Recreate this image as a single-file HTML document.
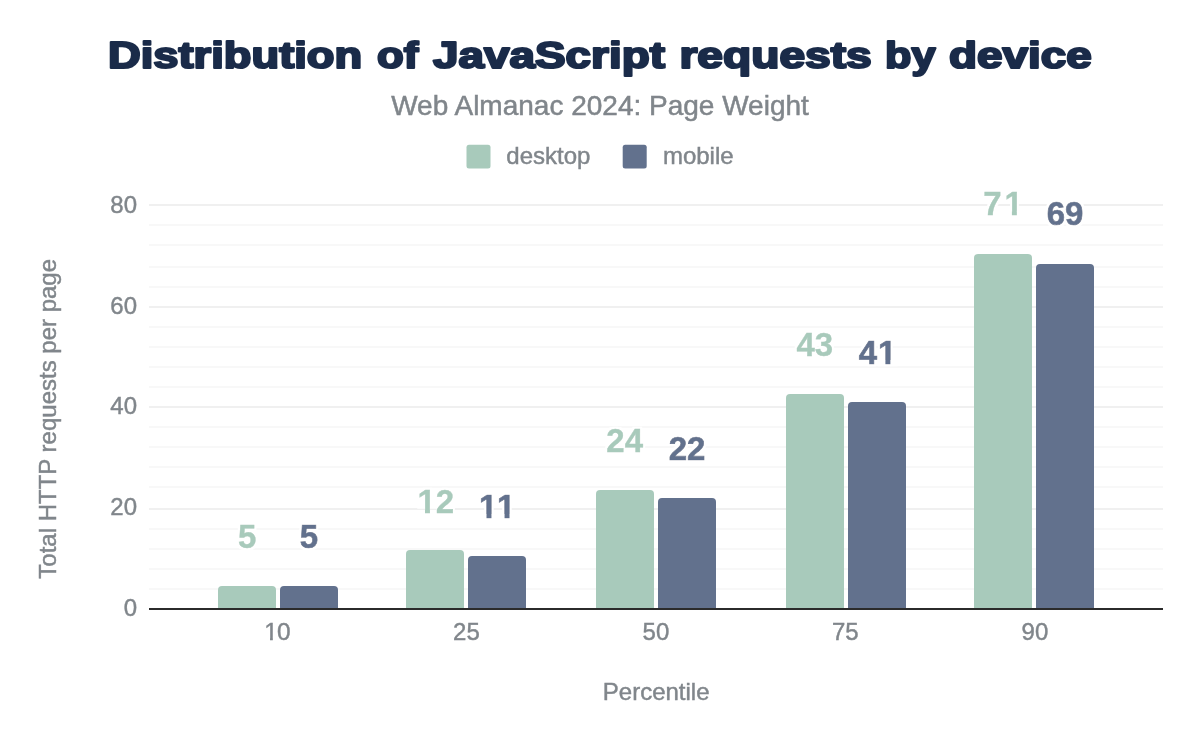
<!DOCTYPE html>
<html lang="en">
<head>
<meta charset="utf-8">
<title>Distribution of JavaScript requests by device</title>
<style>
html,body{margin:0;padding:0;background:#fff;}
body{width:1200px;height:742px;overflow:hidden;}
svg{display:block;}
text{font-family:"Liberation Sans",sans-serif;}
.title{font-weight:bold;font-size:37.8px;fill:#1a2b49;stroke:#1a2b49;stroke-width:2.2px;stroke-linejoin:round;}
.sub{fill:#80868b;stroke:#80868b;stroke-width:0.5px;}
.leg{fill:#80868b;stroke:#80868b;stroke-width:0.45px;}
.ax{fill:#80868b;stroke:#80868b;stroke-width:0.45px;}
.lab{font-weight:bold;font-size:33px;filter:url(#halo);}
.lab.m{stroke:#62718d;stroke-width:0.7px;}
.lab.d{stroke:#a8cabb;stroke-width:0.4px;}
.d{fill:#a8cabb;}
.m{fill:#62718d;}
.gM{stroke:#f0f0f0;stroke-width:2;}
.gm{stroke:#f8f8f8;stroke-width:2;}
</style>
</head>
<body>
<svg width="1200" height="742" viewBox="0 0 1200 742">
<rect width="1200" height="742" fill="#fff"/>
<defs><filter id="halo" x="-20%" y="-20%" width="140%" height="140%"><feMorphology in="SourceAlpha" operator="dilate" radius="1.5" result="dil"/><feFlood flood-color="#ffffff" result="wh"/><feComposite in="wh" in2="dil" operator="in" result="hl"/><feMerge><feMergeNode in="hl"/><feMergeNode in="SourceGraphic"/></feMerge></filter>
<clipPath id="cx10"><path clip-rule="evenodd" d="M257.55,614.0h40v34h-40zM262.55,637.75H270.05v4H262.55zM272.80,637.75H277.25v4H272.80z"/></clipPath>
<clipPath id="cd12"><path clip-rule="evenodd" d="M409.50,478.70h52.71v42h-52.71zM416.00,508.80H425.00v6H416.00zM429.95,508.80H436.45v6H429.95z"/></clipPath>
<clipPath id="cm11"><path clip-rule="evenodd" d="M471.00,483.80h52.41v42h-52.41zM477.50,513.90H486.50v6H477.50zM491.45,513.90H497.05v6H491.45zM497.05,513.90H504.55v6H497.05zM509.50,513.90H516.90v6H509.50z"/></clipPath>
<clipPath id="cm41"><path clip-rule="evenodd" d="M850.85,330.00h53.41v42h-53.41zM877.60,360.10H885.40v6H877.60zM890.35,360.10H897.75v6H890.35z"/></clipPath>
<clipPath id="cd71"><path clip-rule="evenodd" d="M975.35,180.80h55.41v42h-55.41zM1004.10,210.90H1011.90v6H1004.10zM1016.85,210.90H1024.25v6H1016.85z"/></clipPath>
</defs>
<g id="grid">
<line class="gm" x1="149" x2="1163" y1="589" y2="589"/>
<line class="gm" x1="149" x2="1163" y1="569" y2="569"/>
<line class="gm" x1="149" x2="1163" y1="549" y2="549"/>
<line class="gm" x1="149" x2="1163" y1="529" y2="529"/>
<line class="gM" x1="149" x2="1163" y1="509" y2="509"/>
<line class="gm" x1="149" x2="1163" y1="487" y2="487"/>
<line class="gm" x1="149" x2="1163" y1="467" y2="467"/>
<line class="gm" x1="149" x2="1163" y1="447" y2="447"/>
<line class="gm" x1="149" x2="1163" y1="427" y2="427"/>
<line class="gM" x1="149" x2="1163" y1="407" y2="407"/>
<line class="gm" x1="149" x2="1163" y1="387" y2="387"/>
<line class="gm" x1="149" x2="1163" y1="367" y2="367"/>
<line class="gm" x1="149" x2="1163" y1="347" y2="347"/>
<line class="gm" x1="149" x2="1163" y1="327" y2="327"/>
<line class="gM" x1="149" x2="1163" y1="307" y2="307"/>
<line class="gm" x1="149" x2="1163" y1="287" y2="287"/>
<line class="gm" x1="149" x2="1163" y1="267" y2="267"/>
<line class="gm" x1="149" x2="1163" y1="245" y2="245"/>
<line class="gm" x1="149" x2="1163" y1="225" y2="225"/>
<line class="gM" x1="149" x2="1163" y1="205" y2="205"/>
</g>
<text class="title" y="67.5"><tspan x="108" textLength="254.2" lengthAdjust="spacingAndGlyphs">Distribution</tspan> <tspan x="377" textLength="41.3" lengthAdjust="spacingAndGlyphs">of</tspan> <tspan x="433" textLength="232" lengthAdjust="spacingAndGlyphs">JavaScript</tspan> <tspan x="679.4" textLength="192.4" lengthAdjust="spacingAndGlyphs">requests</tspan> <tspan x="885" textLength="50.5" lengthAdjust="spacingAndGlyphs">by</tspan> <tspan x="949" textLength="142.9" lengthAdjust="spacingAndGlyphs">device</tspan></text>
<text class="sub" x="391.16" y="114.6" font-size="28.00" textLength="417.68" lengthAdjust="spacingAndGlyphs">Web Almanac 2024: Page Weight</text>
<rect class="d" x="466.5" y="144.8" width="24" height="23.8" rx="2.5"/>
<text class="leg" x="506.30" y="163.8" font-size="24.00" textLength="84.06" lengthAdjust="spacingAndGlyphs">desktop</text>
<rect class="m" x="622.7" y="144.8" width="24" height="23.8" rx="2.5"/>
<text class="leg" x="662.90" y="163.8" font-size="24.00" textLength="70.70" lengthAdjust="spacingAndGlyphs">mobile</text>
<g id="ylabels">
<text class="ax" x="123.65" y="615.9" font-size="24.48" textLength="13.35" lengthAdjust="spacingAndGlyphs">0</text>
<text class="ax" x="110.30" y="515.2" font-size="24.48" textLength="26.70" lengthAdjust="spacingAndGlyphs">20</text>
<text class="ax" x="110.30" y="413.6" font-size="24.48" textLength="26.70" lengthAdjust="spacingAndGlyphs">40</text>
<text class="ax" x="110.30" y="313.9" font-size="24.48" textLength="26.70" lengthAdjust="spacingAndGlyphs">60</text>
<text class="ax" x="110.30" y="213.2" font-size="24.48" textLength="26.70" lengthAdjust="spacingAndGlyphs">80</text>
</g>
<text class="ax" x="-159.86" y="0" font-size="24.00" textLength="319.72" lengthAdjust="spacingAndGlyphs" transform="translate(55.6,418.8) rotate(-90)">Total HTTP requests per page</text>
<g id="bars">
<path class="d" d="M218,609V590.0a4,4 0 0 1 4,-4h50a4,4 0 0 1 4,4V609z"/>
<path class="m" d="M280,609V590.0a4,4 0 0 1 4,-4h50a4,4 0 0 1 4,4V609z"/>
<path class="d" d="M406,609V554.0a4,4 0 0 1 4,-4h50a4,4 0 0 1 4,4V609z"/>
<path class="m" d="M468,609V560.0a4,4 0 0 1 4,-4h50a4,4 0 0 1 4,4V609z"/>
<path class="d" d="M596,609V494.0a4,4 0 0 1 4,-4h50a4,4 0 0 1 4,4V609z"/>
<path class="m" d="M658,609V502.0a4,4 0 0 1 4,-4h50a4,4 0 0 1 4,4V609z"/>
<path class="d" d="M786,609V398.0a4,4 0 0 1 4,-4h50a4,4 0 0 1 4,4V609z"/>
<path class="m" d="M848,609V406.0a4,4 0 0 1 4,-4h50a4,4 0 0 1 4,4V609z"/>
<path class="d" d="M974,609V258.0a4,4 0 0 1 4,-4h50a4,4 0 0 1 4,4V609z"/>
<path class="m" d="M1036,609V268.0a4,4 0 0 1 4,-4h50a4,4 0 0 1 4,4V609z"/>
</g>
<line x1="149" x2="1163" y1="609" y2="609" stroke="#2b2b2b" stroke-width="2"/>
<g id="labels">
<text class="lab d" x="238.02" y="547.8">5</text>
<text class="lab m" x="299.82" y="547.8">5</text>
<text class="lab d" x="417.50 435.85" y="512.7" clip-path="url(#cd12)">12</text>
<text class="lab m" x="479.00 497.05" y="517.8" clip-path="url(#cm11)">11</text>
<text class="lab d" x="606.35 624.70" y="451.8">24</text>
<text class="lab m" x="668.75 687.10" y="459.5">22</text>
<text class="lab d" x="796.45 814.80" y="355.8">43</text>
<text class="lab m" x="858.85 877.90" y="364.0" clip-path="url(#cm41)">41</text>
<text class="lab d" x="983.35 1004.40" y="214.8" clip-path="url(#cd71)">71</text>
<text class="lab m" x="1046.65 1065.00" y="224.5">69</text>
</g>
<g id="xlabels">
<text class="ax" x="264.25 276.90" y="640.0" font-size="24.4" clip-path="url(#cx10)">10</text>
<text class="ax" x="453.05" y="640.0" font-size="24.48" textLength="26.70" lengthAdjust="spacingAndGlyphs">25</text>
<text class="ax" x="642.55" y="640.0" font-size="24.48" textLength="26.70" lengthAdjust="spacingAndGlyphs">50</text>
<text class="ax" x="831.95" y="640.0" font-size="24.48" textLength="26.70" lengthAdjust="spacingAndGlyphs">75</text>
<text class="ax" x="1021.55" y="640.0" font-size="24.48" textLength="26.70" lengthAdjust="spacingAndGlyphs">90</text>
</g>
<text class="ax" x="602.84" y="700" font-size="24.00" textLength="106.72" lengthAdjust="spacingAndGlyphs">Percentile</text>
</svg>
</body>
</html>
